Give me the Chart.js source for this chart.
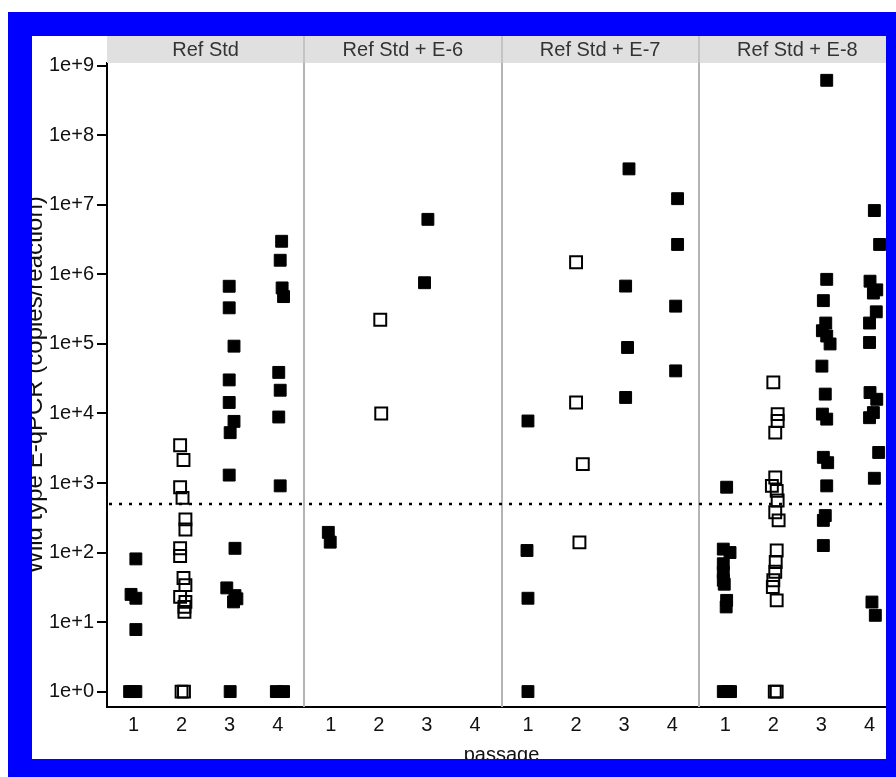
<!DOCTYPE html>
<html><head><meta charset="utf-8">
<script src="https://cdn.jsdelivr.net/npm/chart.js@4"></script>
<style>html,body{margin:0;padding:0;background:#fff;}canvas{display:block;}</style>
</head><body>
<canvas id="c" width="896" height="777"></canvas>
<script>
const panels = ['Ref Std', 'Ref Std + E-6', 'Ref Std + E-7', 'Ref Std + E-8'];
const passages = [1, 2, 3, 4];
const yTickExponents = [0, 1, 2, 3, 4, 5, 6, 7, 8, 9];
const threshold = 500;
const xTitle = 'passage';
const yTitle = 'Wild type E-qPCR (copies/reaction)';

// [passage (jittered), copies/reaction]
const refStd = [
  [1.05, 81], [0.95, 25], [1.05, 22], [1.05, 7.8], [0.92, 1], [0.98, 1], [1.05, 1],
  [1.97, 3500], [2.04, 2140], [1.97, 870], [2.02, 610], [2.08, 300], [2.08, 214],
  [1.97, 115], [1.97, 89], [2.04, 43], [2.08, 34], [1.97, 23], [2.08, 19.5],
  [2.06, 16.5], [2.06, 14], [2.0, 1], [2.05, 1],
  [2.99, 676000], [2.99, 331000], [3.09, 93000], [2.99, 30400], [2.99, 14400],
  [3.09, 7700], [3.01, 5300], [2.99, 1300], [3.11, 115], [2.94, 31], [3.11, 24],
  [3.15, 21.6], [3.08, 19.5], [3.01, 1],
  [4.08, 3000000], [4.05, 1600000], [4.09, 640000], [4.12, 480000], [4.02, 39000],
  [4.05, 21600], [4.02, 8900], [4.05, 910], [3.97, 1], [4.12, 1]
];
const refStdE6 = [
  [0.95, 195], [0.99, 141],
  [2.03, 223000], [2.05, 10000],
  [2.95, 760000], [3.02, 6200000]
];
const refStdE7 = [
  [1.0, 7800], [0.98, 107], [1.0, 22], [1.0, 1],
  [2.0, 1500000], [2.0, 14400], [2.14, 1870], [2.07, 140],
  [3.10, 33000000], [3.03, 680000], [3.07, 89000], [3.03, 17000],
  [4.11, 12300000], [4.11, 2700000], [4.07, 350000], [4.07, 41000]
];
const refStdE8 = [
  [1.03, 870], [0.96, 112], [1.10, 100], [0.96, 69], [0.96, 52], [0.96, 40],
  [0.98, 35], [1.03, 20.5], [1.02, 16.5], [0.96, 1], [1.04, 1], [1.11, 1],
  [2.0, 28000], [2.09, 9800], [2.09, 7800], [2.04, 5300], [2.04, 1200], [1.97, 910],
  [2.07, 770], [2.09, 560], [2.04, 380], [2.11, 290], [2.07, 107], [2.05, 73],
  [2.04, 53], [2.0, 40], [1.99, 32], [2.07, 20.5], [2.03, 1], [2.07, 1],
  [3.11, 620000000], [3.11, 850000], [3.04, 420000], [3.09, 200000], [3.02, 155000],
  [3.11, 130000], [3.18, 100000], [3.01, 48000], [3.08, 19000], [3.02, 9800],
  [3.11, 8300], [3.04, 2340], [3.13, 1960], [3.11, 910], [3.08, 340], [3.04, 290],
  [3.04, 126],
  [4.10, 8300000], [4.21, 2700000], [4.01, 800000], [4.15, 600000], [4.08, 540000],
  [4.14, 290000], [4.0, 200000], [4.0, 105000], [4.01, 20000], [4.15, 16000],
  [4.08, 10300], [4.0, 8700], [4.19, 2750], [4.10, 1170], [4.05, 19.4], [4.12, 12.5]
];
const panelData = [refStd, refStdE6, refStdE7, refStdE8];
const openPassage = 2;

const SPAN = 4.1, XMIN = 0.45;
const FONT = '"Liberation Sans", Arial, sans-serif';

const datasets = panelData.map((arr, k) => ({
  label: panels[k],
  data: arr.map(([p, v]) => ({ x: p + k * SPAN, y: v, p })),
  pointStyle: 'rect',
  pointRadius: 8.4,
  pointHoverRadius: 8.4,
  borderColor: '#000',
  backgroundColor: ctx => (ctx.raw && Math.round(ctx.raw.p) === openPassage) ? 'rgba(0,0,0,0)' : '#000',
  pointBorderWidth: ctx => (ctx.raw && Math.round(ctx.raw.p) === openPassage) ? 2 : 1,
  showLine: false
}));

const facetPlugin = {
  id: 'facet',
  beforeDatasetsDraw(chart) {
    const { ctx, chartArea: a, scales: { x, y } } = chart;
    ctx.save();
    ctx.strokeStyle = '#b4b4b4';
    ctx.lineWidth = 2;
    for (let k = 1; k < panels.length; k++) {
      const px = Math.round(x.getPixelForValue(XMIN + k * SPAN));
      ctx.beginPath(); ctx.moveTo(px, a.top); ctx.lineTo(px, a.bottom); ctx.stroke();
    }
    const ty = Math.round(y.getPixelForValue(threshold));
    ctx.setLineDash([3, 7]);
    ctx.strokeStyle = '#000';
    ctx.lineWidth = 2.5;
    ctx.beginPath(); ctx.moveTo(a.left + 2, ty); ctx.lineTo(a.right, ty); ctx.stroke();
    ctx.restore();
  },
  afterDraw(chart) {
    const { ctx, chartArea: a, scales: { x } } = chart;
    ctx.save();
    const stripTop = 36;
    for (let k = 0; k < panels.length; k++) {
      const x0 = x.getPixelForValue(XMIN + k * SPAN);
      const x1 = x.getPixelForValue(XMIN + (k + 1) * SPAN);
      ctx.fillStyle = '#e0e0e0';
      ctx.fillRect(x0, stripTop, x1 - x0, a.top - stripTop);
      ctx.fillStyle = '#333';
      ctx.font = '20px ' + FONT;
      ctx.textAlign = 'center';
      ctx.textBaseline = 'middle';
      ctx.fillText(panels[k], (x0 + x1) / 2, (stripTop + a.top) / 2 + 1);
    }
    ctx.strokeStyle = '#c4c4c4';
    ctx.lineWidth = 2;
    for (let k = 1; k < panels.length; k++) {
      const px = Math.round(x.getPixelForValue(XMIN + k * SPAN));
      ctx.beginPath(); ctx.moveTo(px, stripTop); ctx.lineTo(px, a.top); ctx.stroke();
    }
    ctx.fillStyle = '#0000ff';
    ctx.fillRect(8, 12, 888, 24);
    ctx.fillRect(8, 12, 24, 765);
    ctx.fillRect(886, 12, 10, 765);
    ctx.fillRect(8, 759, 888, 18);
    ctx.restore();
  }
};

new Chart(document.getElementById('c'), {
  type: 'scatter',
  data: { datasets },
  plugins: [facetPlugin],
  options: {
    responsive: false,
    animation: false,
    devicePixelRatio: 1,
    layout: { autoPadding: false, padding: { top: 63, left: 0, right: 0, bottom: 0 } },
    plugins: { legend: { display: false }, tooltip: { enabled: false } },
    scales: {
      x: {
        type: 'linear',
        min: XMIN,
        max: XMIN + panels.length * SPAN,
        afterFit: s => { s.height = 70; },
        afterBuildTicks: s => {
          s.ticks = panels.flatMap((_, k) => passages.map(p => ({ value: p + k * SPAN })));
        },
        ticks: {
          autoSkip: false, maxRotation: 0, padding: 6, color: '#111',
          font: { size: 20, family: FONT },
          callback: (v, i) => String(passages[i % passages.length])
        },
        grid: { display: false, drawTicks: false },
        border: { display: true, color: '#000', width: 2 },
        title: {
          display: true, text: xTitle, color: '#111',
          font: { size: 20, family: FONT }, padding: { top: 0, bottom: 10 }
        }
      },
      y: {
        type: 'logarithmic',
        min: 0.63,
        max: 1.1e9,
        afterFit: s => { s.width = 107; },
        afterBuildTicks: s => {
          s.ticks = yTickExponents.map(e => ({ value: Math.pow(10, e) }));
        },
        ticks: {
          padding: 3, color: '#111',
          font: { size: 20, family: FONT },
          callback: v => '1e+' + Math.round(Math.log10(v))
        },
        grid: { drawOnChartArea: false, drawTicks: true, tickLength: 10, color: '#000', lineWidth: 2 },
        border: { display: true, color: '#000', width: 2 },
        title: {
          display: true, text: yTitle, color: '#111',
          font: { size: 24, family: FONT }, padding: { top: 21, bottom: 0 }
        }
      }
    }
  }
});
</script>
</body></html>
